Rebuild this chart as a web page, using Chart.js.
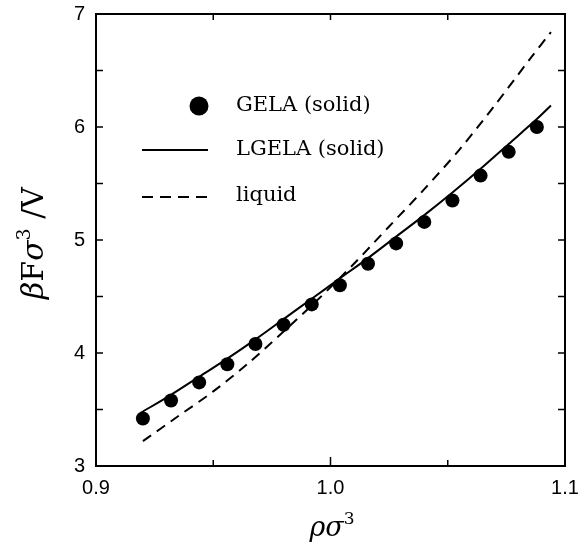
<!DOCTYPE html>
<html>
<head>
<meta charset="utf-8">
<script src="https://cdn.jsdelivr.net/npm/chart.js@4.4.1/dist/chart.umd.min.js"></script>
<style>
  body { margin: 0; background: #fff; }
</style>
</head>
<body>
<canvas id="chart" width="587" height="544"></canvas>
<script>
// values
const gelaX = [0.920, 0.932, 0.944, 0.956, 0.968, 0.980, 0.992, 1.004, 1.016, 1.028, 1.040, 1.052, 1.064, 1.076, 1.088];
const gelaY = [3.42, 3.58, 3.74, 3.90, 4.08, 4.25, 4.43, 4.60, 4.79, 4.97, 5.16, 5.35, 5.57, 5.78, 6.00];
const lgelaX = [0.919, 0.932, 0.944, 0.956, 0.968, 0.980, 0.992, 1.004, 1.016, 1.028, 1.040, 1.052, 1.064, 1.076, 1.088, 1.094];
const lgelaY = [3.47, 3.63, 3.79, 3.95, 4.12, 4.30, 4.48, 4.66, 4.84, 5.03, 5.22, 5.42, 5.63, 5.85, 6.07, 6.19];
const liquidX = [0.920, 0.935, 0.950, 0.965, 0.980, 0.995, 1.010, 1.025, 1.040, 1.055, 1.070, 1.085, 1.094];
const liquidY = [3.22, 3.44, 3.66, 3.91, 4.19, 4.48, 4.79, 5.12, 5.45, 5.80, 6.19, 6.60, 6.84];

const xTicks = [0.9, 1.0, 1.1];
const yTicks = [3, 4, 5, 6, 7];
const xMarks = [0.95, 1.0, 1.05];
const yMarks = [3.5, 4, 4.5, 5, 5.5, 6, 6.5];
const seriesNames = ['GELA (solid)', 'LGELA (solid)', 'liquid'];

const pts = (xs, ys) => xs.map((x, i) => ({ x: x, y: ys[i] }));
const serif = '"DejaVu Serif", serif';
const tickFont = { family: '"Liberation Sans", Arial, sans-serif', size: 20 };

// inward tick marks on all four sides
const frameTicks = {
  id: 'frameTicks',
  afterDatasetsDraw(chart) {
    const { ctx, chartArea: a } = chart;
    const x = chart.scales.x, y = chart.scales.y;
    ctx.save();
    ctx.strokeStyle = '#000';
    ctx.lineWidth = 1.5;
    ctx.beginPath();
    xMarks.forEach(v => {
      const px = x.getPixelForValue(v);
      const len = v === 1.0 ? 9 : 6;
      ctx.moveTo(px, a.bottom); ctx.lineTo(px, a.bottom - len);
      ctx.moveTo(px, a.top); ctx.lineTo(px, a.top + 6);
    });
    yMarks.forEach(v => {
      const py = y.getPixelForValue(v);
      ctx.moveTo(a.left, py); ctx.lineTo(a.left + 7, py);
      ctx.moveTo(a.right, py); ctx.lineTo(a.right - 7, py);
    });
    ctx.stroke();
    ctx.restore();
  }
};

// legend inside the plot + axis titles with superscripts
const annotate = {
  id: 'annotate',
  afterDraw(chart) {
    const ctx = chart.ctx;
    ctx.save();
    ctx.fillStyle = '#000';
    ctx.strokeStyle = '#000';

    // legend
    ctx.beginPath();
    ctx.arc(199, 106, 9.5, 0, Math.PI * 2);
    ctx.fill();
    ctx.lineWidth = 2;
    ctx.beginPath();
    ctx.moveTo(142, 150); ctx.lineTo(208, 150);
    ctx.stroke();
    ctx.setLineDash([11, 7]);
    ctx.beginPath();
    ctx.moveTo(142, 197); ctx.lineTo(208, 197);
    ctx.stroke();
    ctx.setLineDash([]);
    ctx.font = '21px ' + serif;
    ctx.textBaseline = 'middle';
    ctx.textAlign = 'left';
    ctx.fillText(seriesNames[0], 236, 106);
    ctx.fillText(seriesNames[1], 236, 150);
    ctx.fillText(seriesNames[2], 236, 196);

    // x title: rho sigma^3
    ctx.textBaseline = 'alphabetic';
    const runs = (parts, x0, y0) => {
      let cx = x0;
      parts.forEach(p => {
        ctx.font = p[1];
        ctx.fillText(p[0], cx, y0 + (p[2] || 0));
        cx += ctx.measureText(p[0]).width;
      });
      return cx - x0;
    };
    const xParts = [['ρσ', 'italic 27px ' + serif], ['3', '17px ' + serif, -12]];
    let w = 0;
    xParts.forEach(p => { ctx.font = p[1]; w += ctx.measureText(p[0]).width; });
    runs(xParts, 332 - w / 2, 536);

    // y title: beta F sigma^3 / V, rotated
    const yParts = [['β', 'italic 30px ' + serif], ['F', '30px ' + serif], ['σ', 'italic 30px ' + serif],
      ['3', '19px ' + serif, -13], [' /V', '30px ' + serif]];
    w = 0;
    yParts.forEach(p => { ctx.font = p[1]; w += ctx.measureText(p[0]).width; });
    ctx.translate(43, 243 + w / 2);
    ctx.rotate(-Math.PI / 2);
    runs(yParts, 0, 0);
    ctx.restore();
  }
};

const border = { display: true, color: '#000', width: 2 };
// keep label overflow from pushing the plot area around
const noPad = s => { s.paddingTop = 0; s.paddingBottom = 0; s.paddingLeft = 0; s.paddingRight = 0; };

new Chart(document.getElementById('chart'), {
  type: 'scatter',
  data: {
    datasets: [
      {
        label: seriesNames[0],
        data: pts(gelaX, gelaY),
        showLine: false,
        pointRadius: 7,
        pointBackgroundColor: '#000',
        pointBorderWidth: 0
      },
      {
        label: seriesNames[1],
        data: pts(lgelaX, lgelaY),
        showLine: true,
        pointRadius: 0,
        borderColor: '#000',
        borderWidth: 2,
        tension: 0.3
      },
      {
        label: seriesNames[2],
        data: pts(liquidX, liquidY),
        showLine: true,
        pointRadius: 0,
        borderColor: '#000',
        borderWidth: 2,
        borderDash: [10, 7],
        tension: 0.3
      }
    ]
  },
  options: {
    responsive: false,
    animation: false,
    layout: { padding: 0 },
    plugins: { legend: { display: false }, tooltip: { enabled: false } },
    scales: {
      x: {
        type: 'linear', position: 'bottom', min: 0.9, max: 1.1,
        afterBuildTicks: s => { s.ticks = xTicks.map(v => ({ value: v })); },
        ticks: { callback: v => v.toFixed(1), font: tickFont, color: '#000', padding: 10, maxRotation: 0, autoSkip: false },
        grid: { display: false, drawTicks: false },
        border: border,
        afterFit: s => { s.height = 78; noPad(s); }
      },
      x2: {
        type: 'linear', position: 'top', min: 0.9, max: 1.1,
        ticks: { display: false },
        grid: { display: false, drawTicks: false },
        border: border,
        afterFit: s => { s.height = 14; noPad(s); }
      },
      y: {
        type: 'linear', position: 'left', min: 3, max: 7,
        afterBuildTicks: s => { s.ticks = yTicks.map(v => ({ value: v })); },
        ticks: { font: tickFont, color: '#000', padding: 11 },
        grid: { display: false, drawTicks: false },
        border: border,
        afterFit: s => { s.width = 96; noPad(s); }
      },
      y2: {
        type: 'linear', position: 'right', min: 3, max: 7,
        ticks: { display: false },
        grid: { display: false, drawTicks: false },
        border: border,
        afterFit: s => { s.width = 22; noPad(s); }
      }
    }
  },
  plugins: [frameTicks, annotate]
});
</script>
</body>
</html>
